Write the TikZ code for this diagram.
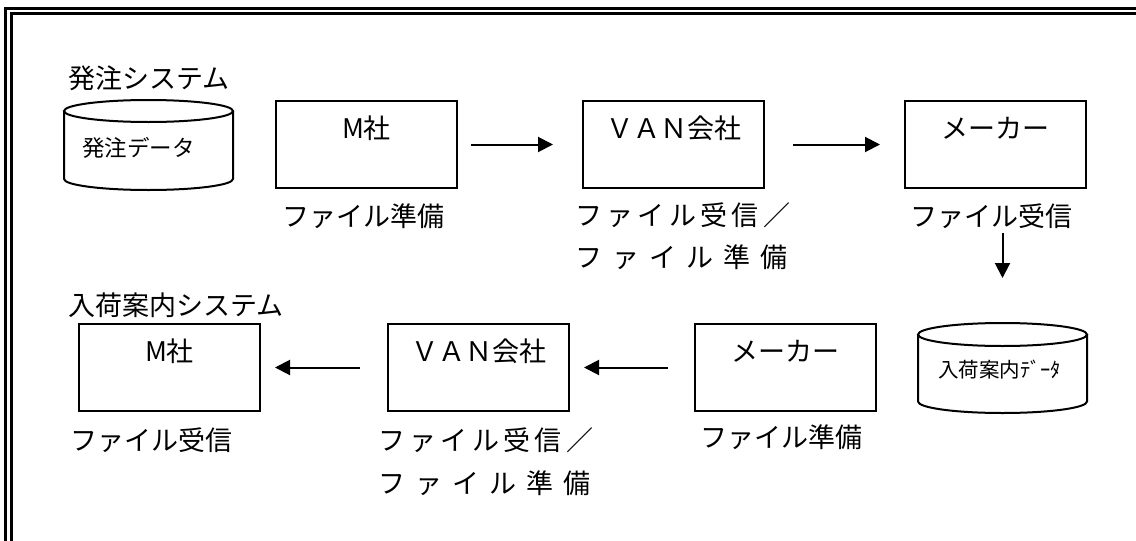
\documentclass[tikz,border=0pt]{standalone}
\usepackage{fontspec}
\setmainfont{Noto Sans CJK JP}
\usetikzlibrary{arrows.meta}
\newcommand{\bigjp}{\fontsize{27}{32}\selectfont}
\tikzset{
  procbox/.style={draw, line width=2pt, inner sep=0pt, text width=181pt, align=center,
    text height=37pt, text depth=50pt, font=\bigjp},
  lbl/.style={anchor=west, inner sep=0pt, font=\bigjp},
  arr/.style={line width=2pt, -{Triangle[length=15pt,width=15pt]}},
  cyl/.style={line width=2pt},
  frameline/.style={line width=3pt}
}
\begin{document}
\begin{tikzpicture}[x=1pt,y=-1pt]
\useasboundingbox (0,0) rectangle (1136,541);
% frame
\draw[frameline] (5.5,541) -- (5.5,8) -- (1136,8);
\draw[line width=2.2pt] (11.5,541) -- (11.5,13.5) -- (1136,13.5);

% top row
\node[lbl] (sys1) at (68,78) {発注システム};
\draw[cyl] (148.5,111) ellipse [x radius=84.5pt, y radius=11pt];
\draw[cyl] (64,111) -- (64,179) arc[start angle=180, end angle=360, x radius=84.5pt, y radius=11pt] -- (233,111);
\node[inner sep=0pt, font=\fontsize{22.5}{26}\selectfont] (db1) at (138.5,148) {発注データ};

\node[procbox, anchor=north west] (m1) at (275,100) {M社};
\node[lbl] (m1l) at (282,216) {ファイル準備};

\node[procbox, anchor=north west] (van1) at (582,100) {ＶＡＮ会社};
\node[lbl] (van1a) at (575,215) {\makebox[215pt][s]{フ\hfill ァ\hfill イ\hfill ル\hfill 受\hfill 信\hfill ／}};
\node[lbl] (van1b) at (575,257) {\makebox[212pt][s]{フ\hfill ァ\hfill イ\hfill ル\hfill 準\hfill 備}};

\node[procbox, anchor=north west] (mk1) at (904,100) {メーカー};
\node[lbl] (mk1l) at (910,216) {ファイル受信};

% second cylinder
\coordinate (c2top) at (1002.5,323);
\draw[cyl] (1002.5,334.5) ellipse [x radius=84.5pt, y radius=11.5pt];
\draw[cyl] (918,334.5) -- (918,401.5) arc[start angle=180, end angle=360, x radius=84.5pt, y radius=11.5pt] -- (1087,334.5);
\node[inner sep=0pt, font=\fontsize{20.5}{24}\selectfont] (db2) at (999.5,370) {入荷案内ﾃﾞｰﾀ};

% bottom row
\node[lbl] (sys2) at (68,305) {入荷案内システム};
\node[procbox, anchor=north west] (m2) at (78,323) {M社};
\node[lbl] (m2l) at (70,440) {ファイル受信};

\node[procbox, anchor=north west] (van2) at (387,323) {ＶＡＮ会社};
\node[lbl] (van2a) at (378,440) {\makebox[215pt][s]{フ\hfill ァ\hfill イ\hfill ル\hfill 受\hfill 信\hfill ／}};
\node[lbl] (van2b) at (378,483) {\makebox[212pt][s]{フ\hfill ァ\hfill イ\hfill ル\hfill 準\hfill 備}};

\node[procbox, anchor=north west] (mk2) at (694,323) {メーカー};
\node[lbl] (mk2l) at (700,437) {ファイル準備};

% arrows
\draw[arr, shorten <=13pt, shorten >=29pt] (m1.east) -- (van1.west);
\draw[arr, shorten <=28pt, shorten >=24pt] (van1.east) -- (mk1.west);
\draw[arr, shorten <=44pt, shorten >=45pt] (mk1.south -| c2top) -- (c2top);
\draw[arr, shorten <=26pt, shorten >=14pt] (mk2.west) -- (van2.east);
\draw[arr, shorten <=27pt, shorten >=14pt] (van2.west) -- (m2.east);
\end{tikzpicture}
\end{document}
